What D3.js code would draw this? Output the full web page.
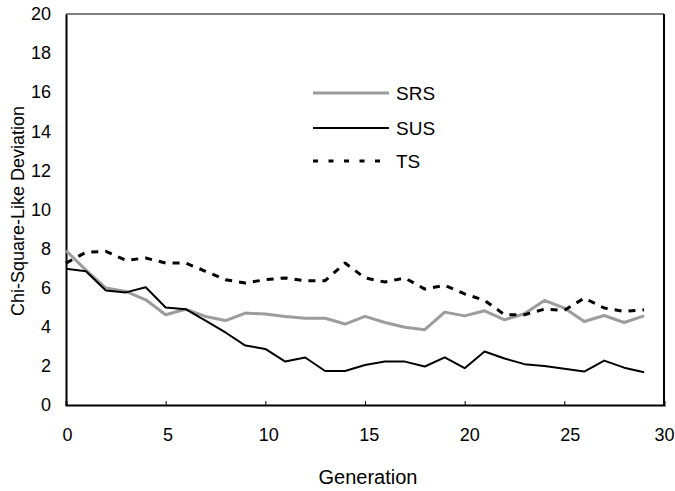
<!DOCTYPE html>
<html>
<head>
<meta charset="utf-8">
<script src="https://cdn.jsdelivr.net/npm/d3@7"></script>
<style>
  html, body { margin: 0; padding: 0; background: #fff; }
  svg { display: block; font-family: "Liberation Sans", Arial, sans-serif; }
</style>
</head>
<body>
<svg id="chart" width="675" height="491"></svg>
<script>
const generations = d3.range(0, 30);
const srs = [7.9, 6.9, 5.98, 5.81, 5.38, 4.62, 4.9, 4.53, 4.32, 4.7,
             4.65, 4.53, 4.44, 4.44, 4.14, 4.53, 4.22, 3.98, 3.85, 4.75,
             4.56, 4.82, 4.36, 4.67, 5.35, 4.96, 4.27, 4.58, 4.22, 4.56];
const sus = [6.97, 6.84, 5.86, 5.76, 6.02, 4.99, 4.9, 4.32, 3.71, 3.04,
             2.87, 2.22, 2.43, 1.74, 1.74, 2.05, 2.22, 2.22, 1.97, 2.44,
             1.88, 2.74, 2.38, 2.09, 2.0, 1.85, 1.71, 2.27, 1.91, 1.68];
const ts  = [7.26, 7.81, 7.86, 7.4, 7.52, 7.26, 7.26, 6.84, 6.41, 6.24,
             6.41, 6.5, 6.36, 6.36, 7.26, 6.5, 6.29, 6.5, 5.93, 6.12,
             5.68, 5.35, 4.62, 4.62, 4.9, 4.84, 5.47, 4.96, 4.79, 4.87];
const xTicks = [0, 5, 10, 15, 20, 25, 30];
const yTicks = [0, 2, 4, 6, 8, 10, 12, 14, 16, 18, 20];
const seriesNames = ["SRS", "SUS", "TS"];

const svg = d3.select("#chart");
const L = 66, R = 664, T = 14, B = 405;
const x = d3.scaleLinear().domain([0, 30]).range([L, R]);
const y = d3.scaleLinear().domain([0, 20]).range([B, T]);
const FONT = "Liberation Sans, Arial, sans-serif";

const styles = {
  SRS: { stroke: "#9c9c9c", width: 3, dash: null },
  SUS: { stroke: "#000", width: 2, dash: null },
  TS:  { stroke: "#000", width: 3, dash: "7,7" }
};
const dataMap = { SRS: srs, SUS: sus, TS: ts };

// frame
svg.append("line").attr("x1", L).attr("x2", R).attr("y1", T).attr("y2", T)
  .attr("stroke", "#000").attr("stroke-width", 1.2);
svg.append("line").attr("x1", R).attr("x2", R).attr("y1", T).attr("y2", B)
  .attr("stroke", "#000").attr("stroke-width", 2);

// x axis
const xAxis = d3.axisBottom(x).tickValues(xTicks).tickSize(-4).tickPadding(0).tickFormat(d3.format("d"));
const gx = svg.append("g").attr("transform", `translate(0,${B})`).call(xAxis);
gx.select(".domain").attr("stroke-width", 2);
gx.selectAll(".tick line").attr("stroke-width", 1);
gx.selectAll(".tick text").attr("dy", null).attr("y", 36)
  .attr("dx", d => d < 30 ? 1 + d * 0.18 : 0)
  .attr("font-size", 18).attr("fill", "#000").attr("font-family", FONT);

// y axis
const yAxis = d3.axisLeft(y).tickValues(yTicks).tickSize(0).tickPadding(15);
const gy = svg.append("g").attr("transform", `translate(${L},0)`).call(yAxis);
gy.select(".domain").attr("stroke-width", 2);
gy.selectAll(".tick text").attr("font-size", 18).attr("fill", "#000")
  .attr("font-family", FONT);

// lines
const line = d3.line().x((d, i) => x(generations[i])).y(d => y(d));
seriesNames.forEach(name => {
  const s = styles[name];
  const p = svg.append("path").datum(dataMap[name])
    .attr("fill", "none").attr("stroke", s.stroke).attr("stroke-width", s.width)
    .attr("stroke-linejoin", "round").attr("d", line);
  if (s.dash) p.attr("stroke-dasharray", s.dash);
});

// legend
const legY = [93, 128, 161];
seriesNames.forEach((name, i) => {
  const s = styles[name];
  const l = svg.append("line").attr("x1", 313).attr("x2", 389)
    .attr("y1", legY[i]).attr("y2", legY[i])
    .attr("stroke", s.stroke).attr("stroke-width", name === "SUS" ? 2 : s.width);
  if (s.dash) l.attr("stroke-dasharray", "5,10.5");
  svg.append("text").attr("x", 396).attr("y", legY[i]).attr("dy", "0.36em")
    .attr("font-size", 19).attr("fill", "#000").text(name);
});

// axis titles
svg.append("text").attr("x", 368).attr("y", 484).attr("text-anchor", "middle")
  .attr("font-size", 20).attr("fill", "#000").text("Generation");
svg.append("text").attr("transform", "translate(24,211) rotate(-90)")
  .attr("text-anchor", "middle").attr("font-size", 18).attr("fill", "#000")
  .text("Chi-Square-Like Deviation");
</script>
</body>
</html>
